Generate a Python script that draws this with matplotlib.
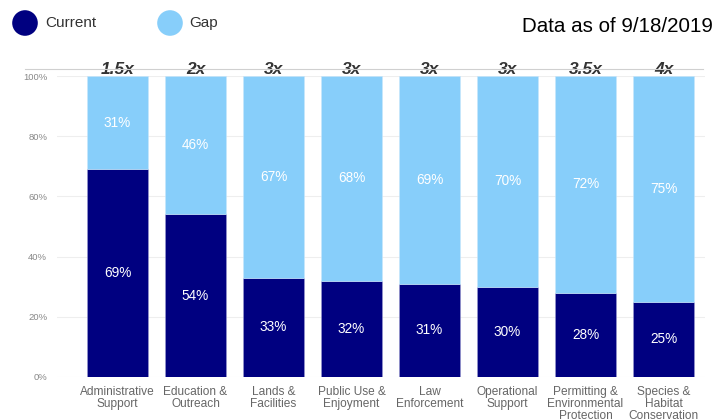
import matplotlib.pyplot as plt
from matplotlib.ticker import FuncFormatter

plt.rcParams['font.family'] = ['Liberation Sans', 'DejaVu Sans']

categories = ["Administrative\nSupport", "Education &\nOutreach", "Lands &\nFacilities",
              "Public Use &\nEnjoyment", "Law\nEnforcement", "Operational\nSupport",
              "Permitting &\nEnvironmental\nProtection", "Species &\nHabitat\nConservation"]
current = [69, 54, 33, 32, 31, 30, 28, 25]
gap = [31, 46, 67, 68, 69, 70, 72, 75]
multipliers = ["1.5x", "2x", "3x", "3x", "3x", "3x", "3.5x", "4x"]

navy = "#000080"
light = "#87cefa"

fig = plt.figure(figsize=(7.17, 4.2), dpi=100)
ax = fig.add_axes([57 / 717, 1 - 377 / 420, (705 - 57) / 717, (377 - 76) / 420])

x = list(range(len(categories)))
ax.bar(x, current, width=0.78, color=navy, edgecolor="#9a9ad0", linewidth=0.4, zorder=3)
ax.bar(x, gap, width=0.78, bottom=current, color=light, edgecolor="#c8e6fb", linewidth=0.4, zorder=3)

for i in x:
    ax.text(i, current[i] / 2, f"{current[i]}%", ha="center", va="center",
            color="white", fontsize=9.8, zorder=4)
    ax.text(i, current[i] + gap[i] / 2, f"{gap[i]}%", ha="center", va="center",
            color="white", fontsize=9.8, zorder=4)
    ax.text(i, 102.2, multipliers[i], ha="center", va="center", color="#333333",
            fontsize=12.5, fontweight="bold", fontstyle="italic", zorder=5)

ax.set_xlim(-0.776, 7.532)
ax.set_ylim(0, 100)
ax.set_yticks([0, 20, 40, 60, 80, 100])
ax.yaxis.set_major_formatter(FuncFormatter(lambda v, p: f"{v:.0f}%"))
ax.set_xticks(x)
ax.set_xticklabels(categories, fontsize=8.6, color="#666666", linespacing=1.0)
ax.tick_params(axis="y", labelsize=6.8, labelcolor="#888888", length=0, pad=7)
ax.tick_params(axis="x", length=0, pad=6.5)
ax.grid(axis="y", color="#eeeeee", linewidth=0.8, zorder=0)
for s in ax.spines.values():
    s.set_visible(False)

# top rule behind multiplier labels
fig.add_artist(plt.Line2D([25 / 717, 703 / 717], [1 - 69 / 420, 1 - 69 / 420],
                          color="#d0d0d0", linewidth=0.8, zorder=1))

# legend
leg = fig.add_axes([0, 0, 1, 1], zorder=10)
leg.set_xlim(0, 717)
leg.set_ylim(420, 0)
leg.axis("off")
leg.scatter([25, 170], [23, 23], s=[340, 340], c=[navy, light], linewidths=0)
leg.text(45, 23, "Current", fontsize=11, color="#333333", va="center")
leg.text(189, 23, "Gap", fontsize=11, color="#333333", va="center")
leg.text(713, 27, "Data as of 9/18/2019", fontsize=14.8, color="black", va="center", ha="right")

fig.savefig("out.png", dpi=100)
